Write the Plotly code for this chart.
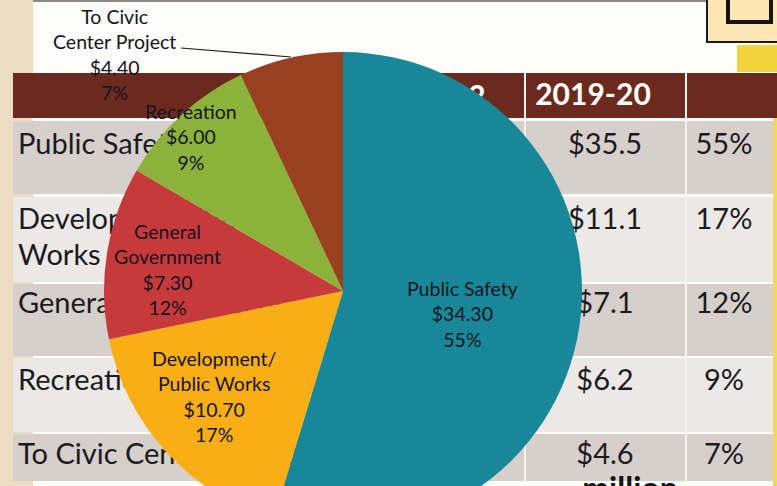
import plotly.graph_objects as go

# General fund uses by function ($ millions)
pie_labels = ["Public Safety", "Development/<br>Public Works", "General<br>Government",
              "Recreation", "To Civic<br>Center Project"]
amounts = [34.30, 10.70, 7.30, 6.00, 4.40]
shares = [55, 17, 12, 9, 7]
slice_colors = ["#188798", "#f9ae16", "#c73a3b", "#8cb23b", "#98401f"]

# Budget table printed behind the chart
table_labels = [["Public Safety"], ["Development/Public", "Works"], ["General Government"],
                ["Recreation"], ["To Civic Center Project"]]
table_2019_20 = ["$35.5", "$11.1", "$7.1", "$6.2", "$4.6"]
table_share = ["55%", "17%", "12%", "9%", "7%"]
header_year = "2019-20"

W, H = 777, 536
FONT = "Lato"
INK = "#1b1b1f"

# page geometry (pixel units on hidden axes, y grows downward)
row_top = [121, 197, 284, 358, 434]
row_bot = [194, 282, 356, 432, 481]
row_fill = ["#d6cfcb", "#ece8e5", "#d6cfcb", "#ece8e5", "#d6cfcb"]
col_lines = [525, 686]
value_x, share_x = 605, 724

shapes = [
    dict(type="rect", x0=0, x1=33, y0=0, y1=H, fillcolor="#ecdcc1", line_width=0, layer="below"),
    dict(type="rect", x0=33, x1=707, y0=0, y1=2, fillcolor="#8c8784", line_width=0, layer="below"),
    dict(type="rect", x0=707, x1=779, y0=-3, y1=42, fillcolor="#fbe6b4",
         line=dict(color="#1a1a1a", width=2), layer="below"),
    dict(type="rect", x0=728, x1=771, y0=-6, y1=22, line=dict(color="#141414", width=4), layer="below"),
    dict(type="rect", x0=737, x1=777, y0=45, y1=72, fillcolor="#f2d23e", line_width=0, layer="below"),
    dict(type="rect", x0=13, x1=777, y0=73, y1=118, fillcolor="#6c2a1e", line_width=0, layer="below"),
    dict(type="rect", x0=773, x1=777, y0=118, y1=H, fillcolor="#f1da55", line_width=0, layer="below"),
]
for t, b, c in zip(row_top, row_bot, row_fill):
    shapes.append(dict(type="rect", x0=13, x1=773, y0=t, y1=b, fillcolor=c, line_width=0, layer="below"))
for cx in col_lines:
    shapes.append(dict(type="line", x0=cx, x1=cx, y0=73, y1=481,
                       line=dict(color="#f6f4f2", width=2), layer="below"))
# leader line for the smallest slice
shapes.append(dict(type="line", x0=181, y0=48, x1=291, y1=57,
                   line=dict(color="#1e1e1e", width=1.2), layer="above"))

fig = go.Figure()

# table text (sits underneath the pie)
lab_x, lab_y, lab_t = [], [], []
centers = [(147,), (222, 258), (306,), (383,), (457,)]
for lines, ys in zip(table_labels, centers):
    for line, y in zip(lines, ys):
        lab_x.append(18)
        lab_y.append(y)
        lab_t.append(line)
fig.add_trace(go.Scatter(x=lab_x, y=lab_y, text=lab_t, mode="text", textposition="middle right",
                         textfont=dict(family=FONT, size=29, color=INK),
                         hoverinfo="skip", showlegend=False))
val_y = [147, 222, 306, 383, 457]
fig.add_trace(go.Scatter(x=[value_x] * 5, y=val_y, text=table_2019_20, mode="text",
                         textposition="middle center",
                         textfont=dict(family=FONT, size=29, color=INK),
                         hoverinfo="skip", showlegend=False))
fig.add_trace(go.Scatter(x=[share_x] * 5, y=val_y, text=table_share, mode="text",
                         textposition="middle center",
                         textfont=dict(family=FONT, size=29, color=INK),
                         hoverinfo="skip", showlegend=False))
fig.add_trace(go.Scatter(x=[593, 477], y=[97, 99], text=[header_year, "2"], mode="text",
                         textposition="middle center",
                         textfont=dict(family=FONT, size=30, color="#ffffff", weight="bold"),
                         hoverinfo="skip", showlegend=False))
fig.add_trace(go.Scatter(x=[630], y=[492], text=["million"], mode="text",
                         textposition="middle center",
                         textfont=dict(family=FONT, size=32, color="#151515", weight="bold"),
                         hoverinfo="skip", showlegend=False))

# the pie
cx, cy, r = 343, 291, 239
fig.add_trace(go.Pie(
    labels=[l.replace("<br>", " ") for l in pie_labels], values=amounts,
    marker=dict(colors=slice_colors, line=dict(width=0)),
    sort=False, direction="clockwise", rotation=0,
    textinfo="none", hoverinfo="skip", showlegend=False,
    domain=dict(x=[(cx - r) / W, (cx + r) / W], y=[1 - (cy + r) / H, 1 - (cy - r) / H]),
))

# slice labels
label_pos = [(462, 314), (214, 396), (167, 269), (191, 137), (114, 54)]
annotations = []
for lab, amt, pct, (x, y) in zip(pie_labels, amounts, shares, label_pos):
    annotations.append(dict(x=x, y=y, xref="x", yref="y", showarrow=False,
                            text=f"{lab}<br>${amt:.2f}<br>{pct}%",
                            font=dict(family=FONT, size=19.5, color="#141420"),
                            align="center"))

fig.update_layout(
    width=W, height=H, margin=dict(l=0, r=0, t=0, b=0),
    paper_bgcolor="#fcfcfb", plot_bgcolor="#fcfcfb",
    xaxis=dict(range=[0, W], visible=False, fixedrange=True),
    yaxis=dict(range=[H, 0], visible=False, fixedrange=True),
    shapes=shapes, annotations=annotations,
)

fig.write_html("out.html",
               post_script="document.documentElement.style.overflow='hidden';"
                           "document.body.style.overflow='hidden';")
